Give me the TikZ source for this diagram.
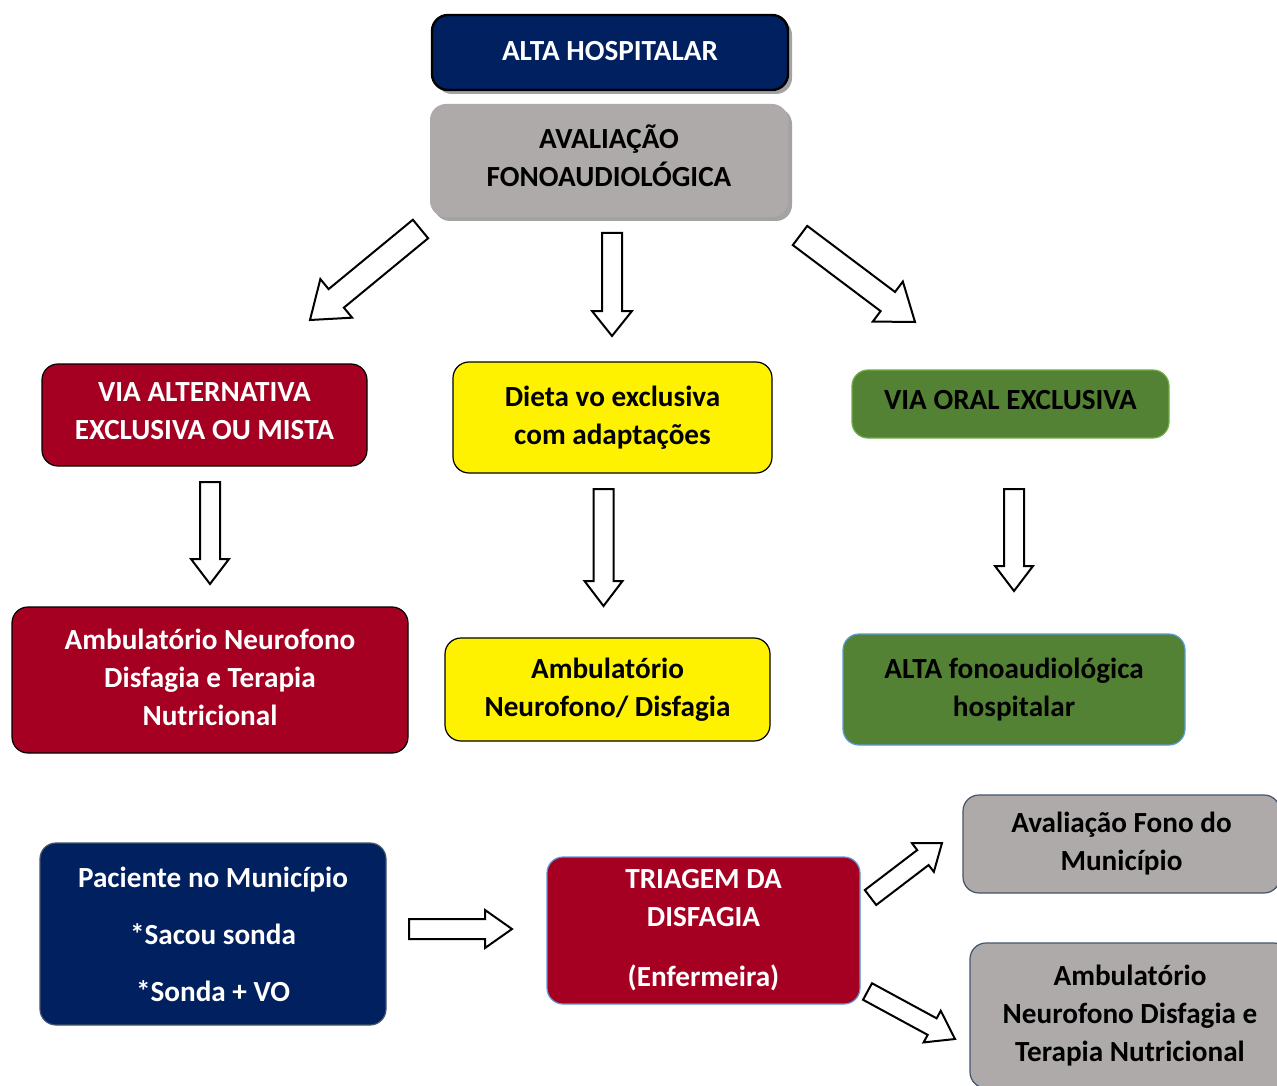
\documentclass[tikz,border=0pt]{standalone}
\usepackage{fontspec}
\setmainfont{Carlito}
\usetikzlibrary{calc,shadows}

\definecolor{navy}{HTML}{002060}
\definecolor{darkred}{HTML}{A50021}
\definecolor{boxgray}{HTML}{AEAAAA}
\definecolor{okgreen}{HTML}{548235}
\definecolor{litegreen}{HTML}{70AD47}
\definecolor{liteblue}{HTML}{5B9BD5}
\definecolor{slate}{HTML}{44546A}

% hollow block arrow: shaft half width, head half width, head length, tail, tip
\newcommand{\blockarrow}[5]{%
  \path ($(#5)!#3!(#4)$) coordinate (hb);
  \draw[line width=1pt,fill=white,line join=miter]
    ($(#4)!#1!90:(#5)$) -- ($(hb)!#1!90:(#5)$) -- ($(hb)!#2!90:(#5)$) -- (#5)
    -- ($(hb)!#2!-90:(#5)$) -- ($(hb)!#1!-90:(#5)$) -- ($(#4)!#1!-90:(#5)$) -- cycle;
}

\tikzset{
  box/.style={rectangle,rounded corners=8pt,align=center,inner sep=0pt,line width=0.6pt,
    font=\fontsize{14.6}{19}\selectfont\bfseries},
  navybox/.style={box,fill=navy,text=white},
  redbox/.style={box,fill=darkred,text=white},
  yellowbox/.style={box,fill=yellow,draw=black},
  greenbox/.style={box,fill=okgreen,text=black},
  graybox/.style={box,fill=boxgray,text=black,draw=slate},
  shade/.style={drop shadow={shadow xshift=2pt,shadow yshift=-2pt,fill=gray!80,opacity=0.9}}
}

\begin{document}
\begin{tikzpicture}[x=0.5pt,y=-0.5pt]
\useasboundingbox (0,0) rectangle (1277,1085);
\clip (0,0) rectangle (1277,1085);

  % top
  \node[navybox,draw=black,line width=1.2pt,shade,minimum width=178pt,minimum height=37.5pt,text depth=2pt] (alta) at (610,52.5) {ALTA HOSPITALAR};
  \node[box,fill=boxgray,shade,minimum width=179pt,minimum height=56.5pt,text depth=5pt] (aval) at (609,160.5) {AVALIAÇÃO\\FONOAUDIOLÓGICA};

  % second row
  \node[redbox,draw=black,minimum width=162.5pt,minimum height=51pt,text depth=4pt] (via) at (204.5,415) {VIA ALTERNATIVA\\EXCLUSIVA OU MISTA};
  \node[yellowbox,minimum width=159.5pt,minimum height=55.5pt] (dieta) at (612.5,417.5) {Dieta vo exclusiva\\com adaptações};
  \node[greenbox,draw=litegreen,minimum width=158.5pt,minimum height=34pt,text depth=4pt] (oral) at (1010.5,404) {VIA ORAL EXCLUSIVA};

  % third row
  \node[redbox,draw=black,minimum width=198pt,minimum height=73pt,text depth=3pt] (ambred) at (210,680) {Ambulatório Neurofono\\Disfagia e Terapia\\Nutricional};
  \node[yellowbox,minimum width=162.5pt,minimum height=51.5pt] (ambyel) at (607.5,689.5) {Ambulatório\\Neurofono/ Disfagia};
  \node[greenbox,draw=liteblue,minimum width=171pt,minimum height=55.5pt] (altafono) at (1014,689.5) {ALTA fonoaudiológica\\hospitalar};

  % municipio
  \node[navybox,draw=slate,minimum width=173pt,minimum height=91pt] (paciente) at (213,934) {Paciente no Município\\[9.5pt]*Sacou sonda\\[9.5pt]*Sonda + VO};
  \node[redbox,draw=liteblue,minimum width=156.5pt,minimum height=73.5pt] (triagem) at (703.5,930.5) {TRIAGEM DA\\DISFAGIA\\[11pt](Enfermeira)};
  \node[graybox,minimum width=158.5pt,minimum height=49pt] (avalmun) at (1121.5,844) {Avaliação Fono do\\Município};
  \node[graybox,minimum width=160pt,minimum height=72.5pt] (ambgray) at (1130,1015.5) {Ambulatório\\Neurofono Disfagia e\\Terapia Nutricional};

  % arrow ends
  \coordinate (t1) at (420.5,229);  \coordinate (h1) at (310,320);
  \coordinate (t2) at (612,233);    \coordinate (h2) at (612,336);
  \coordinate (t3) at (800,235.5);  \coordinate (h3) at (915,322);
  \coordinate (t4) at (210,482);    \coordinate (h4) at (210,584);
  \coordinate (t5) at (603.5,489);  \coordinate (h5) at (603.5,606);
  \coordinate (t6) at (1014,489);   \coordinate (h6) at (1014,591);
  \coordinate (t7) at (409,929);    \coordinate (h7) at (512,929);
  \coordinate (t8) at (870.5,897.5);\coordinate (h8) at (942,843);
  \coordinate (t9) at (867.5,991.5);\coordinate (h9) at (955,1039);

  \blockarrow{6pt}{12.5pt}{17pt}{t1}{h1}
  \blockarrow{5pt}{10pt}{12.5pt}{t2}{h2}
  \blockarrow{6pt}{12.5pt}{17pt}{t3}{h3}
  \blockarrow{5pt}{9.5pt}{12.5pt}{t4}{h4}
  \blockarrow{5pt}{9.5pt}{12.5pt}{t5}{h5}
  \blockarrow{5pt}{9.5pt}{12.5pt}{t6}{h6}
  \blockarrow{5pt}{9.5pt}{13.5pt}{t7}{h7}
  \blockarrow{4.7pt}{9pt}{12pt}{t8}{h8}
  \blockarrow{4.7pt}{9pt}{13pt}{t9}{h9}

\end{tikzpicture}
\end{document}
